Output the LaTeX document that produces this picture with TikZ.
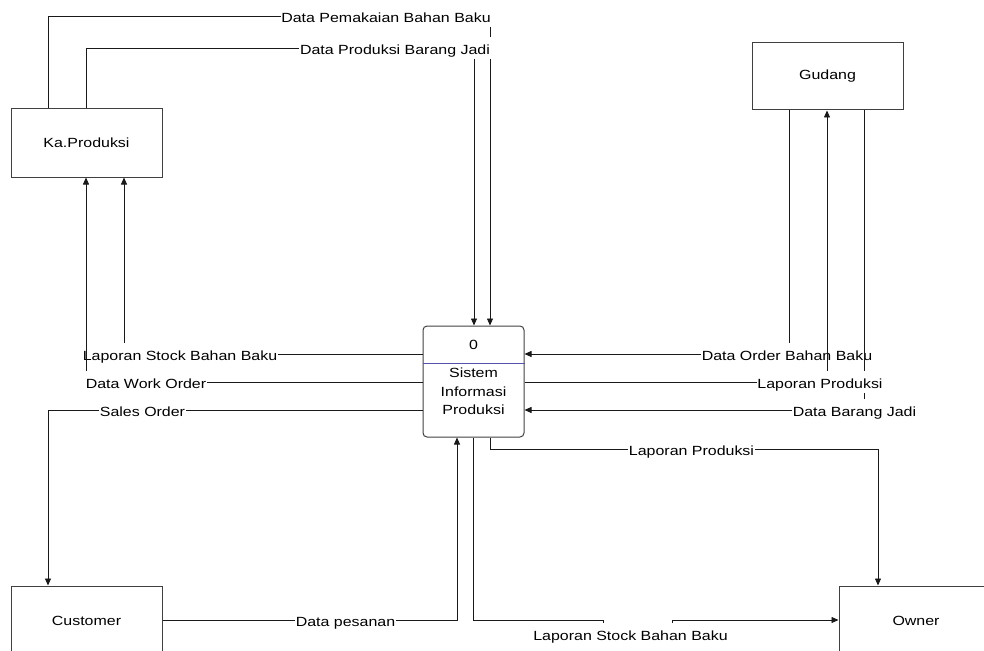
\documentclass[tikz,border=0pt]{standalone}
\usepackage{fontspec}
\setmainfont{Liberation Sans}
\newfontfamily\dfont[FakeStretch=1.2]{Liberation Sans}
\usetikzlibrary{arrows.meta}
\begin{document}
\begin{tikzpicture}[x=1pt,y=-1pt,
 every node/.style={font=\dfont\fontsize{13.3}{18.5}\selectfont},
 ent/.style={draw=black!75, line width=1pt, minimum width=151pt, minimum height=68pt, inner sep=0pt},
 flow/.style={draw=black!90, line width=0.8pt},
 arr/.style={-{Triangle[length=7pt,width=6pt]}},
 lbl/.style={fill=white, inner xsep=0.6pt, inner ysep=0pt, text height=17.5pt, text depth=4.5pt}]
\useasboundingbox (0,0) rectangle (984,650);
\clip (0,0) rectangle (984,650);

% entities
\node[ent] (kp) at (86.5,143) {Ka.Produksi};
\node[ent, minimum height=67pt] (gd) at (827.5,76.5) {Gudang};
\node[ent, minimum height=70pt] (cu) at (86.5,621) {Customer};
\node[ent, minimum width=154pt, minimum height=70pt] (ow) at (916,621) {Owner};

% process
\node[draw=black!75, line width=1pt, rounded corners=4pt, minimum width=101pt, minimum height=111pt, inner sep=0pt] (p) at (473.5,381.5) {};
\coordinate (dv) at (0,363);
\draw[color=blue!35!gray, line width=1pt] (p.west |- dv) -- (p.east |- dv);
\node (pid) at (473.5,345) {0};
\node[align=center, inner sep=0pt] (pname) at (473.5,391.5) {Sistem\\Informasi\\Produksi};

% 1 Data Pemakaian Bahan Baku
\coordinate (a1) at (48,16); \coordinate (a2) at (490,16);
\draw[flow,arr] (kp.north -| a1) -- (a1) -- (a2) -- (p.north -| a2);
\node[lbl] (t1) at (386,16) {Data Pemakaian Bahan Baku};

% 2 Data Produksi Barang Jadi
\coordinate (b1) at (86,48); \coordinate (b2) at (474,48);
\draw[flow,arr] (kp.north -| b1) -- (b1) -- (b2) -- (p.north -| b2);
\node[lbl] (t2) at (395,48) {Data Produksi Barang Jadi};

% 3 Laporan Stock Bahan Baku (to Ka.Produksi)
\coordinate (c1) at (124,354);
\draw[flow,arr] (p.west |- c1) -- (c1) -- (kp.south -| c1);
\node[lbl] (t3) at (180,354) {Laporan Stock Bahan Baku};

% 4 Data Work Order
\coordinate (d1) at (86,382);
\draw[flow,arr] (p.west |- d1) -- (d1) -- (kp.south -| d1);
\node[lbl] (t4) at (146,382) {Data Work Order};

% 5 Sales Order
\coordinate (e1) at (48,410);
\draw[flow,arr] (p.west |- e1) -- (e1) -- (cu.north -| e1);
\node[lbl] (t5) at (142.5,410) {Sales Order};

% 6 Data Order Bahan Baku
\coordinate (f1) at (789,354);
\draw[flow,arr] (gd.south -| f1) -- (f1) -- (p.east |- f1);
\node[lbl] (t6) at (787,354) {Data Order Bahan Baku};

% 7 Data Barang Jadi
\coordinate (g1) at (864,410);
\draw[flow,arr] (gd.south -| g1) -- (g1) -- (p.east |- g1);
\node[lbl] (t7) at (854.5,410) {Data Barang Jadi};

% 8 Laporan Produksi (to Gudang)
\coordinate (h1) at (827,382);
\draw[flow,arr] (p.east |- h1) -- (h1) -- (gd.south -| h1);
\node[lbl] (t8) at (820,382) {Laporan Produksi};

% 9 Laporan Produksi (to Owner)
\coordinate (i1) at (490,449); \coordinate (i2) at (878,449);
\draw[flow,arr] (p.south -| i1) -- (i1) -- (i2) -- (ow.north -| i2);
\node[lbl] (t9) at (691.5,449) {Laporan Produksi};

% 10 Data pesanan
\coordinate (j1) at (457,620);
\draw[flow,arr] (cu.east |- j1) -- (j1) -- (p.south -| j1);
\node[lbl] (t10) at (345.5,620) {Data pesanan};

% 11 Laporan Stock Bahan Baku (to Owner)
\coordinate (k1) at (473,620); \coordinate (k2) at (603,620);
\coordinate (k3) at (603,634); \coordinate (k4) at (672,634);
\coordinate (k5) at (672,620);
\draw[flow,arr] (p.south -| k1) -- (k1) -- (k2) -- (k3) -- (k4) -- (k5) -- (ow.west |- k5);
\node[lbl] (t11) at (630.5,634) {Laporan Stock Bahan Baku};
\end{tikzpicture}
\end{document}
